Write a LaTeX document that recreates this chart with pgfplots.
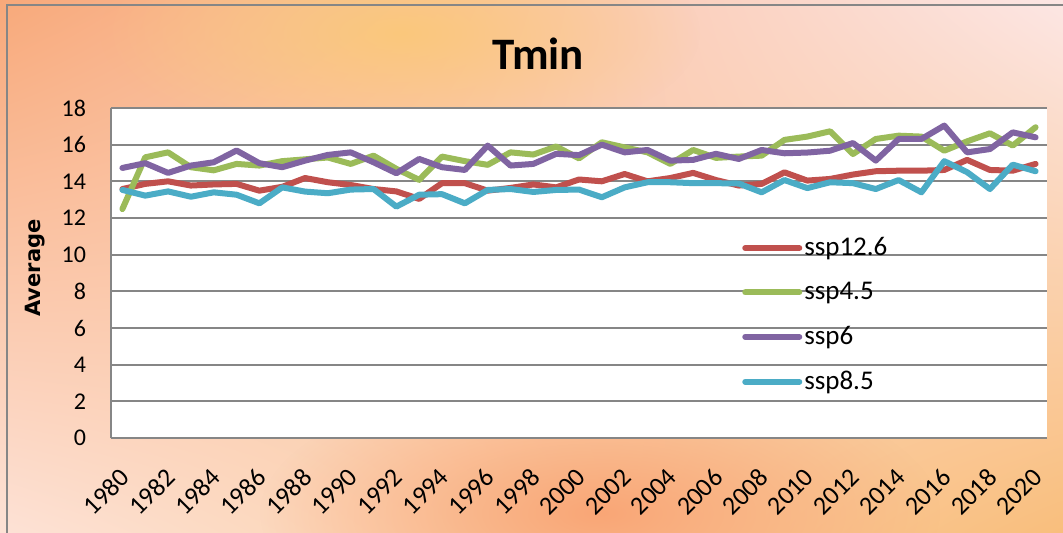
\documentclass[border=0pt]{standalone}
\usepackage{pgfplots}
\pgfplotsset{compat=1.18}
\usepackage{pgfplotstable}
\usepackage{fontspec}
\setmainfont{Carlito}
\newfontfamily\dejavu{DejaVu Sans}
\usetikzlibrary{shadings,fadings}

\definecolor{sred}{HTML}{C0504D}
\definecolor{sgreen}{HTML}{9BBB59}
\definecolor{spurple}{HTML}{8064A2}
\definecolor{scyan}{HTML}{4BACC6}
\definecolor{gridgray}{HTML}{868686}
\definecolor{bgul}{HTML}{F8A97A}
\definecolor{bgur}{HTML}{FCE6E4}
\definecolor{bgll}{HTML}{FDE2D6}
\definecolor{bglr}{HTML}{F9BE7C}
\definecolor{bgorange}{HTML}{F9A676}
\definecolor{bgyellow}{HTML}{FAC87C}

\tikzfading[name=fuzzy, inner color=transparent!0, outer color=transparent!100]

% Tmin averages per scenario
\pgfplotstableread{
year ssp126 ssp45 ssp6 ssp85
1980 13.58 12.49 14.73 13.53
1981 13.86 15.31 14.99 13.22
1982 14.00 15.58 14.46 13.45
1983 13.77 14.77 14.86 13.16
1984 13.83 14.60 15.04 13.40
1985 13.86 14.95 15.68 13.27
1986 13.49 14.86 14.99 12.80
1987 13.70 15.10 14.77 13.67
1988 14.18 15.20 15.13 13.44
1989 13.95 15.30 15.44 13.35
1990 13.80 14.95 15.58 13.55
1991 13.58 15.40 15.04 13.58
1992 13.45 14.68 14.44 12.62
1993 13.04 14.08 15.22 13.27
1994 13.90 15.35 14.77 13.30
1995 13.90 15.10 14.62 12.80
1996 13.49 14.90 15.95 13.53
1997 13.64 15.58 14.86 13.58
1998 13.83 15.46 14.95 13.42
1999 13.67 15.90 15.50 13.53
2000 14.10 15.25 15.43 13.55
2001 14.00 16.13 16.00 13.13
2002 14.40 15.85 15.58 13.67
2003 14.00 15.58 15.71 13.95
2004 14.18 14.95 15.13 13.95
2005 14.46 15.71 15.17 13.90
2006 14.07 15.28 15.50 13.90
2007 13.77 15.35 15.22 13.88
2008 13.86 15.40 15.71 13.40
2009 14.49 16.26 15.53 14.07
2010 14.04 16.44 15.57 13.63
2011 14.13 16.73 15.67 13.95
2012 14.37 15.49 16.09 13.90
2013 14.55 16.31 15.13 13.58
2014 14.58 16.49 16.31 14.07
2015 14.58 16.44 16.31 13.40
2016 14.62 15.67 17.04 15.10
2017 15.17 16.18 15.58 14.50
2018 14.62 16.62 15.76 13.58
2019 14.58 15.95 16.67 14.91
2020 14.95 16.95 16.40 14.55
}\tmin

\begin{document}
\begin{tikzpicture}
  % background (1px = 0.5pt)
  \shade[upper left=bgul, upper right=bgur, lower left=bgll, lower right=bglr]
    (0,0) rectangle (531.5pt,266.5pt);
  \fill[bgorange, path fading=fuzzy] (300pt,10pt) ellipse [x radius=170pt, y radius=70pt];
  \fill[bgyellow, path fading=fuzzy] (200pt,250pt) ellipse [x radius=150pt, y radius=60pt];
  \draw[gridgray, line width=0.8pt] (3.5pt,0) -- (3.5pt,264pt) -- (531.5pt,264pt);

  \node[anchor=base, font=\fontsize{22.5}{27}\selectfont\bfseries] at (269pt,231.5pt) {Tmin};
  \node[rotate=90, font=\dejavu\fontsize{10.5}{12.6}\selectfont\bfseries] at (17.5pt,132.5pt) {Average};

  \begin{axis}[
    at={(55.5pt,47.5pt)}, anchor=south west,
    scale only axis, width=468pt, height=165pt,
    xmin=1979.5, xmax=2020.5, ymin=0, ymax=18,
    xtick={1980,1982,...,2020}, ytick={0,2,...,18},
    major tick length=0pt,
    axis lines*=left,
    axis line style={gridgray, line width=0.9pt},
    axis background/.style={fill=white},
    ymajorgrids, major grid style={gridgray, line width=0.9pt},
    /pgf/number format/1000 sep={},
    /pgf/number format/assume math mode=true,
    yticklabel style={font=\fontsize{12}{14.4}\selectfont, xshift=-9pt},
    xticklabel style={font=\fontsize{13}{15.6}\selectfont, xshift=-2pt, yshift=-9.5pt,
      rotate=45, anchor=north east},
    legend style={at={(0.674,0.615)}, anchor=north west, draw=none, fill=none,
      font=\fontsize{13.5}{16}\selectfont, row sep=9.8pt, inner sep=0pt,
      nodes={inner sep=1pt}},
    legend cell align=left,
    legend image code/.code={\draw[#1, line width=3pt, line cap=round] (-1pt,0pt) -- (26pt,0pt);},
    every axis plot/.append style={line width=3pt, line join=round, line cap=round, no markers},
  ]
    \addplot[sred] table[x=year, y=ssp126] {\tmin};
    \addplot[sgreen] table[x=year, y=ssp45] {\tmin};
    \addplot[spurple] table[x=year, y=ssp6] {\tmin};
    \addplot[scyan] table[x=year, y=ssp85] {\tmin};
    \legend{ssp12.6, ssp4.5, ssp6, ssp8.5}
  \end{axis}
  \pgfresetboundingbox
  \useasboundingbox (0,0) rectangle (531.5pt,266.5pt);
\end{tikzpicture}
\end{document}
